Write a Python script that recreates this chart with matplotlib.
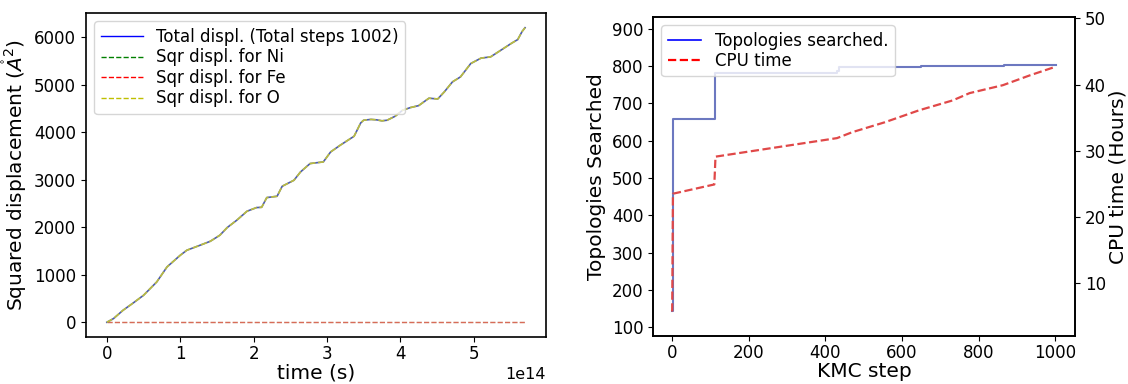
import numpy as np
import matplotlib
matplotlib.use('Agg')
import matplotlib.pyplot as plt

# squared displacement vs simulated time
time_s = np.array([0, 0.09, 0.22, 0.36, 0.50, 0.68, 0.82, 1.00, 1.09, 1.27, 1.41, 1.54,
                   1.64, 1.77, 1.91, 2.04, 2.11, 2.18, 2.32, 2.39, 2.55, 2.64, 2.77, 2.95,
                   3.05, 3.18, 3.37, 3.46, 3.50, 3.60, 3.68, 3.75, 3.82, 3.93, 4.03, 4.14,
                   4.25, 4.39, 4.51, 4.60, 4.71, 4.82, 4.96, 5.10, 5.23, 5.37, 5.51, 5.60,
                   5.66, 5.70]) * 1e14
total_sd = [0, 77, 252, 407, 568, 849, 1165, 1410, 1516, 1621, 1705, 1832,
            1993, 2147, 2337, 2414, 2420, 2625, 2652, 2863, 2989, 3165, 3341, 3375,
            3585, 3726, 3916, 4196, 4253, 4270, 4260, 4240, 4253, 4337, 4463, 4520,
            4560, 4716, 4700, 4850, 5059, 5165, 5446, 5560, 5586, 5726, 5867, 5950,
            6120, 6200]
ni_sd = [0] * len(total_sd)
fe_sd = [0] * len(total_sd)
o_sd = total_sd

# topologies searched / cpu time vs KMC step
topo_steps = [0, 2, 110, 112, 430, 435, 645, 650, 860, 865, 1001]
topo = [143, 657, 657, 783, 786, 797, 798, 800, 800, 802, 802]
cpu_steps = [0, 2, 110, 113, 430, 470, 555, 644, 732, 776, 863, 934, 1001]
cpu_hours = [5.7, 23.5, 24.9, 29.1, 31.9, 32.8, 34.3, 36.1, 37.6, 38.7, 39.9, 41.4, 42.7]

plt.rcParams['axes.linewidth'] = 1.2
plt.rcParams['xtick.labelsize'] = 12
plt.rcParams['ytick.labelsize'] = 12
plt.rcParams['xtick.major.pad'] = 2.5

fig = plt.figure(figsize=(11.28, 3.84), dpi=100)
ax1 = fig.add_axes([0.0762, 0.1224, 0.4078, 0.8438])
ax2 = fig.add_axes([0.5789, 0.125, 0.3741, 0.8307])

ax1.plot(time_s, ni_sd, '--', color='green', lw=1, alpha=0.3, label='Sqr displ. for Ni')
ax1.plot(time_s, fe_sd, '--', color='red', lw=1, alpha=0.5, label='Sqr displ. for Fe')
ax1.plot(time_s, total_sd, '-', color='#3a4aa8', lw=1.2, alpha=0.9, label='Total displ. (Total steps 1002)')
ax1.plot(time_s, o_sd, '--', color='#c8c830', lw=1.2, alpha=0.9, label='Sqr displ. for O')
ax1.set_xlabel('time (s)', fontsize=14.5, labelpad=0)
ax1.set_ylabel(r'Squared displacement ($\mathring{A}^2$)', fontsize=14.5)
ax1.xaxis.get_offset_text().set_fontsize(11.5)
h, l = ax1.get_legend_handles_labels()
order = [2, 0, 1, 3]
leg = ax1.legend([h[i] for i in order], [l[i] for i in order], loc='upper left',
                 fontsize=12, handlelength=2.5, labelspacing=0.15)
for hd, c in zip(leg.legend_handles, ['blue', 'green', 'red', 'y']):
    hd.set_color(c)
    hd.set_alpha(1)
    hd.set_linewidth(1)

l1, = ax2.step(topo_steps, topo, where='post', color='#6c78c0', lw=1.5,
               label='Topologies searched.')
ax3 = ax2.twinx()
l2, = ax3.plot(cpu_steps, cpu_hours, '--', color='#e04848', lw=1.6, label='CPU time')
ax2.set_ylim(76, 932)
ax3.set_ylim(2.0, 50.2)
ax2.set_xlabel('KMC step', fontsize=14.5, labelpad=0)
ax2.set_ylabel('Topologies Searched', fontsize=14.5)
ax3.set_ylabel('CPU time (Hours)', fontsize=14.5, labelpad=2)
leg2 = ax2.legend([l1, l2], [l1.get_label(), l2.get_label()], loc='upper left', fontsize=12,
                  labelspacing=0.1)
leg2.legend_handles[0].set_color('blue')
leg2.legend_handles[0].set_linewidth(1.2)
leg2.legend_handles[1].set_color('red')

plt.savefig('out.png', dpi=100)
